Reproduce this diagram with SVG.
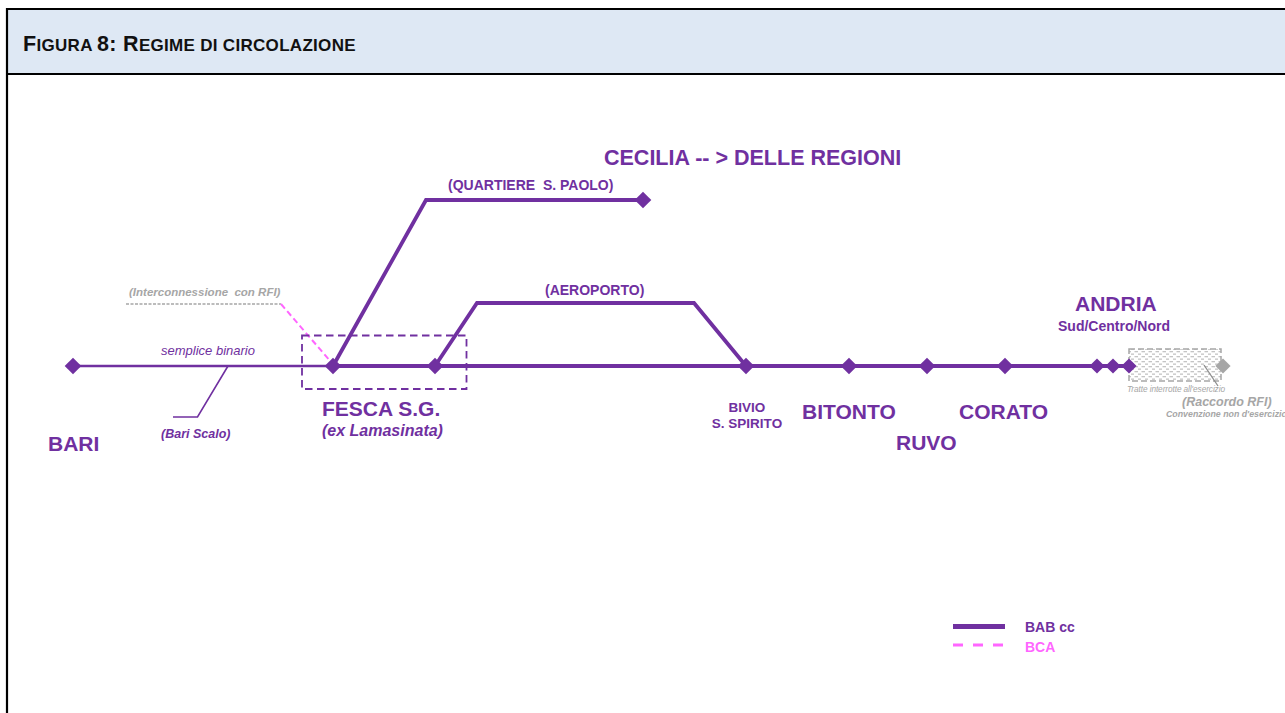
<svg xmlns="http://www.w3.org/2000/svg" width="1285" height="713" viewBox="0 0 1285 713">
<style>
text{font-family:"Liberation Sans",Arial,sans-serif;}
.p{fill:#7030A0;}
.b{font-weight:bold;}
.i{font-style:italic;}
.g{fill:#A6A6A6;}
.big{font-size:21px;font-weight:bold;fill:#7030A0;}
.thick{stroke:#7030A0;stroke-width:3.8;fill:none;stroke-linejoin:miter;}
.thin{stroke:#7030A0;stroke-width:2.4;fill:none;}
</style>
<defs>
<path id="dia" d="M0,-8.3 L8.3,0 L0,8.3 L-8.3,0Z"/>
<path id="dias" d="M0,-7.6 L7.6,0 L0,7.6 L-7.6,0Z"/>
<pattern id="dots" width="7" height="5" patternUnits="userSpaceOnUse">
<rect x="0.5" y="1" width="3.5" height="1.3" fill="#C4C4C4"/>
<rect x="4" y="3.5" width="3.5" height="1.3" fill="#C4C4C4"/>
</pattern>
</defs>
<rect x="0" y="0" width="1285" height="713" fill="#FFFFFF"/>
<!-- frame / header -->
<g id="header">
<rect x="7" y="9" width="1290" height="65" fill="#DEE8F4"/>
<line x1="6" y1="9" x2="1285" y2="9" stroke="#000" stroke-width="2.2"/>
<line x1="6" y1="74" x2="1285" y2="74" stroke="#000" stroke-width="2.2"/>
<line x1="7" y1="8" x2="7" y2="713" stroke="#000" stroke-width="2.2"/>
<text x="23" y="51" fill="#111" font-weight="bold" letter-spacing="0.3"><tspan font-size="21.5">F</tspan><tspan font-size="17">IGURA </tspan><tspan font-size="21.5">8: R</tspan><tspan font-size="17">EGIME DI CIRCOLAZIONE</tspan></text>
</g>
<!-- connectors -->
<g id="connectors">
<line class="thin" x1="73" y1="366" x2="333" y2="366"/>
<line class="thick" x1="333" y1="366" x2="1129" y2="366"/>
<polyline class="thick" points="333,366 426,200 643,200"/>
<polyline class="thick" points="435,366 477,303 694,303 746,366"/>
<polyline stroke="#7030A0" stroke-width="1.6" fill="none" points="228,366 197.5,417 173,417"/>
<line x1="126" y1="304" x2="281" y2="304" stroke="#A6A6A6" stroke-width="1.4" stroke-dasharray="3,1.5"/>
<line x1="281" y1="304" x2="331" y2="362" stroke="#FF66FF" stroke-width="2" stroke-dasharray="6,3.5"/>
<rect x="302" y="335.5" width="164.5" height="53.5" fill="none" stroke="#7030A0" stroke-width="1.8" stroke-dasharray="7.5,4.5"/>
<rect x="1129" y="349" width="92" height="32" fill="url(#dots)" stroke="#A6A6A6" stroke-width="1.5" stroke-dasharray="6,3"/>
<line x1="1204" y1="365" x2="1218" y2="386" stroke="#8C8C8C" stroke-width="1.3"/>
</g>
<!-- nodes -->
<g id="node-bari">
<use href="#dia" x="73" y="366" class="p"/>
<text x="48" y="451" class="big" font-size="21.5">BARI</text>
</g>
<g id="node-bari-scalo">
<text x="161" y="355" font-size="13" class="p i">semplice binario</text>
<text x="161" y="438" font-size="12.5" class="p b i">(Bari Scalo)</text>
</g>
<g id="node-interconnessione">
<text x="129" y="296" font-size="11.5" class="g b i" xml:space="preserve">(Interconnessione  con RFI)</text>
</g>
<g id="node-fesca">
<use href="#dia" x="333" y="366" class="p"/>
<use href="#dia" x="435" y="366" class="p"/>
<text x="322" y="416" class="big">FESCA S.G.</text>
<text x="322" y="436" font-size="16" class="p b i">(ex Lamasinata)</text>
</g>
<g id="node-quartiere">
<use href="#dia" x="643" y="200" class="p"/>
<text x="448" y="190" font-size="14" class="p b" xml:space="preserve">(QUARTIERE  S. PAOLO)</text>
<text x="604" y="165" class="big" style="font-size:21.5px">CECILIA -- &gt; DELLE REGIONI</text>
</g>
<g id="node-aeroporto">
<text x="545" y="295" font-size="14" class="p b">(AEROPORTO)</text>
</g>
<g id="node-bivio">
<use href="#dia" x="746" y="366" class="p"/>
<text x="747" y="412" font-size="13.5" class="p b" text-anchor="middle">BIVIO</text>
<text x="747" y="428" font-size="13.5" class="p b" text-anchor="middle">S. SPIRITO</text>
</g>
<g id="node-bitonto">
<use href="#dia" x="849" y="366" class="p"/>
<text x="802" y="419" class="big">BITONTO</text>
</g>
<g id="node-ruvo">
<use href="#dia" x="927" y="366" class="p"/>
<text x="896" y="450" class="big">RUVO</text>
</g>
<g id="node-corato">
<use href="#dia" x="1005" y="366" class="p"/>
<text x="959" y="419" class="big">CORATO</text>
</g>
<g id="node-andria">
<use href="#dias" x="1097" y="366" class="p"/>
<use href="#dias" x="1113" y="366" class="p"/>
<use href="#dias" x="1129" y="366" class="p"/>
<text x="1075" y="311" class="big">ANDRIA</text>
<text x="1058" y="331" font-size="14" class="p b">Sud/Centro/Nord</text>
</g>
<g id="node-raccordo">
<use href="#dias" x="1223" y="366" fill="#A6A6A6"/>
<text x="1127" y="392" font-size="8.3" class="g i" letter-spacing="-0.1">Tratte interrotte all'esercizio</text>
<text x="1182" y="406" font-size="12.5" class="g b i">(Raccordo RFI)</text>
<text x="1166" y="417" font-size="8.8" class="g b i">Convenzione non d'esercizio</text>
</g>
<g id="legend">
<line x1="953" y1="626.5" x2="1005" y2="626.5" stroke="#7030A0" stroke-width="5"/>
<text x="1025" y="632" font-size="14" class="p b">BAB cc</text>
<line x1="953" y1="645" x2="1005" y2="645" stroke="#FF66FF" stroke-width="3" stroke-dasharray="10,10"/>
<text x="1025" y="652" font-size="14" class="b" fill="#FF66FF">BCA</text>
</g>
</svg>
